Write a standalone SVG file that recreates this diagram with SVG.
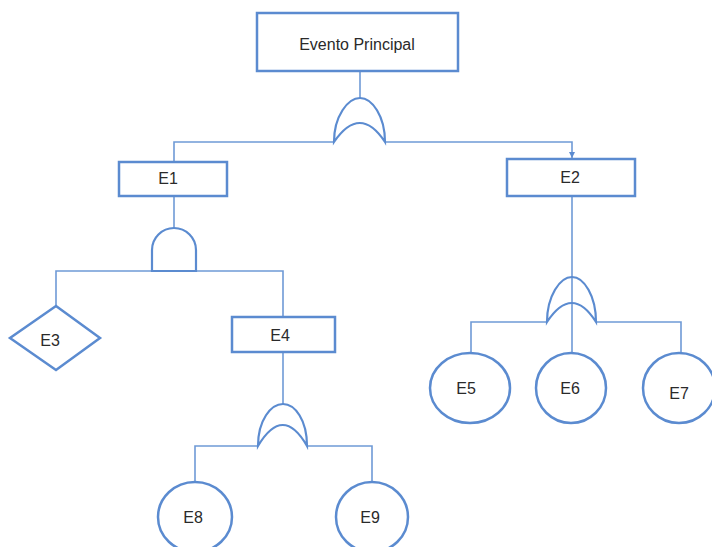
<svg xmlns="http://www.w3.org/2000/svg" width="712" height="547" viewBox="0 0 712 547">
<defs>
<style>
.shape{fill:#fff;stroke:#5b8bd0;stroke-width:2.5}
.gate{fill:none;stroke:#5b8bd0;stroke-width:2.2}
.line{fill:none;stroke:#6f9ad6;stroke-width:1.6}
text{font-family:"Liberation Sans",Arial,sans-serif;font-size:16px;fill:#2a2a2a;text-anchor:middle;dominant-baseline:central}
</style>
<marker id="arr" viewBox="0 0 8 8" refX="8" refY="4" markerWidth="4" markerHeight="4" orient="auto"><path d="M0,0 L8,4 L0,8 z" fill="#5b8bd0"/></marker>
</defs>
<rect width="712" height="547" fill="#fff"/>
<g id="connectors">
<path class="line" d="M360,71 V98"/>
<path class="line" d="M334,142 H174 V162"/>
<path class="line" d="M385,142 H572 V158" marker-end="url(#arr)"/>
<path class="line" d="M174,196 V228"/>
<path class="line" d="M56,306 V271 H283 V317"/>
<path class="line" d="M572,196 V277"/>
<path class="line" d="M471,354 V322 H547 M596,322 H681 V353 M572,277 V354"/>
<path class="line" d="M283,352 V404"/>
<path class="line" d="M195,482 V446 H258 M307,446 H372 V482"/>
</g>
<g id="gate-top"><path class="gate" d="M334,142 C334,116 348,98 360,98 C372,98 385,116 385,142 Q360,104 334,142 Z"/></g>
<g id="gate-e1"><path class="gate" d="M152,271 V250 A22,22 0 0 1 196,250 V271 Z"/></g>
<g id="gate-e2"><path class="gate" d="M547,322 C547,296 560,277 572,277 C584,277 596,296 596,322 Q572,284 547,322 Z"/></g>
<g id="gate-e4"><path class="gate" d="M258,446 C258,420 271,404 283,404 C295,404 307,420 307,446 Q283,404 258,446 Z"/></g>
<g id="evento-principal"><rect class="shape" x="257" y="13" width="201" height="58"/><text x="357" y="44">Evento Principal</text></g>
<g id="E1"><rect class="shape" x="119" y="162" width="108" height="34"/><text x="168" y="178">E1</text></g>
<g id="E2"><rect class="shape" x="507" y="159" width="128" height="37"/><text x="570" y="177">E2</text></g>
<g id="E3"><path class="shape" d="M56,306 L100,338 L56,370 L10,338 Z"/><text x="50" y="340">E3</text></g>
<g id="E4"><rect class="shape" x="232" y="317" width="103" height="35"/><text x="280" y="335">E4</text></g>
<g id="E5"><ellipse class="shape" cx="470" cy="388" rx="40" ry="35"/><text x="466" y="388">E5</text></g>
<g id="E6"><ellipse class="shape" cx="571" cy="388" rx="35" ry="35"/><text x="570" y="388">E6</text></g>
<g id="E7"><ellipse class="shape" cx="679" cy="388" rx="36" ry="35"/><text x="679" y="393">E7</text></g>
<g id="E8"><ellipse class="shape" cx="195" cy="517" rx="37" ry="35"/><text x="193" y="517">E8</text></g>
<g id="E9"><ellipse class="shape" cx="372" cy="517" rx="36" ry="35"/><text x="370" y="517">E9</text></g>
</svg>
